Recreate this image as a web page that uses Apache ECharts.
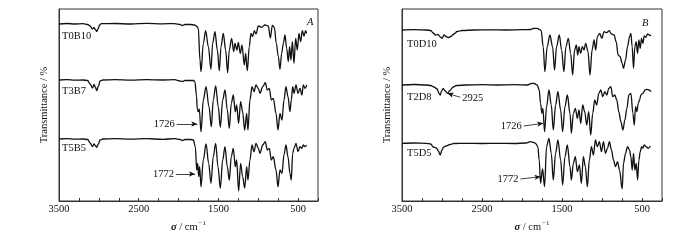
<!DOCTYPE html>
<html>
<head>
<meta charset="utf-8">
<script src="https://cdn.jsdelivr.net/npm/echarts@6/dist/echarts.min.js"></script>
<style>
html,body{margin:0;padding:0;background:#fff;}
#main{width:700px;height:240px;}
</style>
</head>
<body>
<div id="main"></div>
<script>
// spectra: [wavenumber, stacked transmittance]
var namesA = ['T0B10', 'T3B7', 'T5B5'];
var namesB = ['T0D10', 'T2D8', 'T5D5'];
var tickLabels = [500, 1500, 2500, 3500];

var t0b10 = [[3500,177],[3400,177.5],[3300,177],[3200,177.3],[3140,176.5],[3110,175],[3080,172],[3060,173.5],[3040,171],[3027,169.5],[3010,172],[2990,176],[2970,177.3],[2800,177.5],[2600,177],[2400,177.6],[2200,177.2],[2050,177.4],[1980,176.5],[1950,175.5],[1920,176.5],[1850,176.5],[1800,176],[1775,175],[1752,172.7],[1731,141],[1718,129.3],[1689,157.7],[1660,170.3],[1626,154.3],[1593,131.7],[1572,157.7],[1543,169.3],[1513,151],[1488,130.3],[1467,154.3],[1438,167.7],[1409,151],[1384,128.3],[1363,151],[1334,162.7],[1308,149.3],[1292,157.7],[1267,151],[1250,158.7],[1225,147.7],[1204,156],[1175,136],[1158,147.7],[1137,130.3],[1112,154.3],[1091,167.7],[1070,164.3],[1049,170.3],[1028,167],[999,175],[957,173.7],[915,176],[874,175],[848,163],[823,175.7],[798,173.7],[773,157.7],[748,144.3],[727,131.7],[706,147.7],[685,157.7],[664,166],[643,152.7],[623,139.3],[606,154.3],[589,141],[572,159.3],[551,137.7],[531,162.7],[510,151],[489,167.7],[468,159.3],[447,170.3],[426,165],[405,170.3],[393,167.7]];

var t3b7 = [[3500,121],[3400,121.3],[3300,120.8],[3200,121],[3140,120.5],[3110,117],[3080,113],[3060,116.5],[3045,114],[3027,110.5],[3005,115],[2985,120],[2950,121],[2800,121.3],[2600,120.8],[2400,121.3],[2200,121],[2050,121.3],[1980,120],[1950,119.5],[1920,120.5],[1850,120.5],[1810,120.5],[1794,119],[1775,105],[1765,92],[1752,89.3],[1740,92],[1718,69.3],[1689,101],[1655,114.3],[1618,94.3],[1589,74.3],[1564,101],[1534,115],[1501,94.3],[1476,73.7],[1446,101],[1417,111],[1388,91],[1363,72.7],[1338,97.7],[1313,106],[1288,89.3],[1271,96],[1246,77.7],[1221,99.3],[1196,89.3],[1170,71],[1145,87.7],[1129,71],[1104,101],[1078,114.3],[1053,109.3],[1028,116],[999,112.7],[978,107.7],[944,114.3],[911,118.3],[886,111],[861,112.7],[836,101],[811,102.7],[777,87.7],[752,71],[727,87.7],[702,81],[677,101],[652,114.3],[627,104.3],[602,89.3],[585,101],[568,114.3],[551,107.7],[526,116],[501,107.7],[476,112.7],[451,106],[435,116],[413,112.7],[392,116]];

var t5b5 = [[3500,62],[3400,62.3],[3300,61.8],[3200,62],[3140,61.5],[3110,58],[3080,54.5],[3060,57],[3045,55.5],[3027,53.7],[3005,57],[2985,61],[2950,62],[2800,62.3],[2600,61.8],[2400,62.3],[2200,61.7],[2050,62.3],[1980,61.5],[1950,60.5],[1920,61.5],[1850,61.5],[1814,61],[1789,54],[1772,31],[1760,37.7],[1747,24.3],[1735,34.3],[1718,14.3],[1689,41],[1655,57],[1622,37.7],[1593,17.7],[1564,44.3],[1534,57.7],[1505,34.3],[1476,12.7],[1446,41],[1417,54.3],[1388,34.3],[1363,21],[1338,44.3],[1313,52.7],[1288,34.3],[1271,41],[1246,10],[1221,37.7],[1196,24.3],[1170,13],[1145,34.3],[1129,21],[1104,41],[1078,56],[1053,49.3],[1028,57.7],[999,52.7],[978,47.7],[944,56],[911,59.3],[886,51],[861,52.7],[836,41],[811,44.3],[777,31],[752,14.3],[727,31],[702,27.7],[677,46],[652,56],[627,44.3],[602,27.7],[585,21],[568,47.7],[551,52.7],[526,57.7],[501,49.3],[476,54.3],[451,52.7],[435,56],[413,54.3],[392,56]];

var t0d10 = [[3500,171],[3350,171.3],[3200,171],[3140,170.5],[3110,168],[3080,166],[3050,166.5],[3020,164],[3000,162.7],[2975,166],[2950,164.5],[2925,163.3],[2890,164.5],[2850,167],[2810,169.5],[2750,170.5],[2600,171],[2400,171.2],[2200,171],[2000,171.3],[1894,171.5],[1860,172.5],[1810,172.7],[1780,171.5],[1760,170.3],[1735,154.3],[1714,129.3],[1685,154.3],[1651,166],[1618,154.3],[1593,131],[1568,154.3],[1534,166],[1505,151],[1476,129.3],[1451,154.3],[1421,162.7],[1392,147.7],[1367,126],[1342,151],[1321,156],[1304,146],[1288,154.3],[1267,147.7],[1246,154.3],[1225,151],[1204,157.7],[1175,149.3],[1150,126],[1124,151],[1099,161],[1079,151],[1058,164.3],[1028,167.7],[1003,162.7],[974,169.3],[941,168.3],[911,170.3],[882,167],[849,166],[823,159.3],[798,146],[773,144.3],[748,137.7],[731,132.7],[706,141],[681,154.3],[656,164.3],[639,167.7],[623,154.3],[606,132.7],[589,154.3],[573,159.3],[556,147.7],[539,161],[522,152.7],[506,162.7],[489,157.7],[472,165],[451,163.7],[430,167],[409,166],[389,165]];

var t2d8 = [[3500,116],[3350,116.5],[3200,116],[3140,115.5],[3100,114],[3060,112],[3040,108],[3023,106],[3005,110],[2985,112.5],[2960,110],[2932,107.7],[2900,110.5],[2860,114],[2820,115.5],[2700,116],[2500,116.3],[2300,116],[2100,116.3],[1935,116],[1873,117.7],[1850,117.5],[1810,116],[1785,111],[1768,97.7],[1751,87.7],[1739,92.7],[1718,69.3],[1693,94.3],[1663,111],[1634,96],[1609,71],[1580,96],[1551,109.3],[1517,91],[1492,69.3],[1463,94.3],[1433,106],[1400,87.7],[1383,67.7],[1358,87.7],[1333,92.7],[1308,82.7],[1287,91],[1266,77.7],[1241,96],[1216,89.3],[1191,76],[1166,89.3],[1141,66],[1116,87.7],[1091,101],[1066,96],[1040,107.7],[1015,111],[990,104.3],[965,109.3],[940,106],[915,112.7],[890,114.3],[865,104.3],[840,106],[815,101],[790,89.3],[764,79.3],[739,71],[714,81],[689,92.7],[664,106],[639,107.7],[614,87.7],[597,76],[580,94.3],[564,89.3],[547,97.7],[530,101],[514,106],[488,107.7],[463,111],[438,111.7],[413,111],[388,109.3]];

var t5d5 = [[3500,57.7],[3350,58],[3200,57.7],[3140,57],[3110,54],[3070,53],[3045,50],[3023,46],[3000,51],[2980,54],[2950,55],[2900,56.5],[2850,57.5],[2700,57.7],[2500,57.5],[2300,57.7],[2100,57.5],[1950,58],[1894,59.3],[1850,58.5],[1831,57.7],[1802,54.3],[1785,41],[1768,17.7],[1743,32],[1718,14.3],[1693,54.3],[1663,62.7],[1634,47.7],[1609,21],[1580,47.7],[1551,61],[1517,41],[1492,16],[1463,44.3],[1433,56],[1400,34.3],[1383,21],[1358,37.7],[1333,44.3],[1308,29.3],[1283,36],[1258,17.7],[1233,44.3],[1208,34.3],[1183,14.3],[1158,41],[1132,54.3],[1107,46],[1082,61],[1057,54.3],[1032,59.3],[1007,49.3],[982,59.3],[957,47.7],[932,52.7],[907,59.3],[882,51],[856,41],[831,34.3],[806,39.3],[781,31],[748,12],[731,37.7],[706,47.7],[681,54.3],[656,51],[639,44.3],[622,31],[606,47.7],[589,31],[572,37.7],[555,21],[539,41],[522,49.3],[505,54.3],[488,52.7],[472,56],[447,54.3],[422,52.7],[396,55]];

// where the sample names sit, and the arrows: [series, text, from, to]
var namePosA = [[3462,165],[3462,110],[3462,53]];
var namePosB = [[3437,157],[3437,104],[3437,48]];
var arrowsA = [[1,'1726',[2023,77],[1765,77]],[2,'1772',[2032,27],[1794,27]]];
var arrowsB = [[1,'2925',[2772,103.7],[2932,107.7]],[1,'1726',[1978,75],[1735,77.7]],[2,'1772',[2019,22],[1769,24.3]]];

var font = 'Liberation Serif';
var ink = '#111';

function xAxisOf(gi) {
  return {
    gridIndex: gi, type: 'value', inverse: true,
    min: 250, max: 3500, interval: 250,
    axisLine: {show: true, lineStyle: {color: '#333', width: 1}},
    axisTick: {inside: true, length: 3, lineStyle: {color: '#333'}},
    splitLine: {show: false},
    axisLabel: {
      margin: 3, fontFamily: font, fontSize: 10.5, color: ink,
      formatter: function (v) { return tickLabels.indexOf(v) >= 0 ? v : ''; }
    },
    name: '{s|σ} / cm{sup|−1}', nameLocation: 'middle', nameGap: 19,
    nameTextStyle: {
      fontFamily: font, fontSize: 10.5, color: ink,
      rich: {
        s: {fontFamily: font, fontSize: 10.5, fontWeight: 'bold', fontStyle: 'italic', color: ink},
        sup: {fontFamily: font, fontSize: 7, color: ink, padding: [0, 0, 7, 1]}
      }
    }
  };
}
function yAxisOf(gi) {
  return {
    gridIndex: gi, type: 'value', min: 0, max: 192,
    axisLine: {show: true, lineStyle: {color: '#333'}},
    axisTick: {show: false}, axisLabel: {show: false}, splitLine: {show: false},
    name: 'Transmittance / %', nameLocation: 'middle', nameGap: 9,
    nameTextStyle: {fontFamily: font, fontSize: 10.5, color: ink}
  };
}
function makeSeries(gi, name, data, pos, arrows, idx) {
  var mine = arrows.filter(function (a) { return a[0] === idx; });
  return {
    type: 'line', name: name, xAxisIndex: gi, yAxisIndex: gi,
    data: data, showSymbol: false, smooth: 0.35, smoothMonotone: 'x',
    lineStyle: {color: ink, width: 1.3}, animation: false, silent: true,
    markPoint: {
      symbol: 'circle', symbolSize: 0, silent: true,
      label: {show: true, position: 'right', distance: 0, formatter: name,
        fontFamily: font, fontSize: 10.5, color: ink},
      data: [{coord: pos}]
    },
    markLine: {
      silent: true, symbol: ['none', 'arrow'], symbolSize: [4, 6],
      lineStyle: {color: ink, width: 0.8, type: 'solid'},
      label: {show: true, position: 'start', distance: 2, fontFamily: font, fontSize: 10.5, color: ink},
      data: mine.map(function (a) {
        return [{coord: a[2], name: a[1], label: {formatter: a[1]}}, {coord: a[3]}];
      })
    }
  };
}

var series = [];
[t0b10, t3b7, t5b5].forEach(function (d, i) { series.push(makeSeries(0, namesA[i], d, namePosA[i], arrowsA, i)); });
[t0d10, t2d8, t5d5].forEach(function (d, i) { series.push(makeSeries(1, namesB[i], d, namePosB[i], arrowsB, i)); });

var chart = echarts.init(document.getElementById('main'), null, {renderer: 'canvas'});
chart.setOption({
  backgroundColor: '#fff',
  animation: false,
  title: [
    {text: 'A', left: 302, top: 12, textStyle: {fontFamily: font, fontSize: 10.5, fontStyle: 'italic', fontWeight: 'normal', color: ink}},
    {text: 'B', left: 637, top: 13, textStyle: {fontFamily: font, fontSize: 10.5, fontStyle: 'italic', fontWeight: 'normal', color: ink}}
  ],
  grid: [
    {left: 59, top: 9, width: 259, height: 192, show: true, borderColor: '#333', borderWidth: 1, backgroundColor: 'transparent'},
    {left: 402, top: 9, width: 260, height: 192, show: true, borderColor: '#333', borderWidth: 1, backgroundColor: 'transparent'}
  ],
  xAxis: [xAxisOf(0), xAxisOf(1)],
  yAxis: [yAxisOf(0), yAxisOf(1)],
  series: series
});
</script>
</body>
</html>
